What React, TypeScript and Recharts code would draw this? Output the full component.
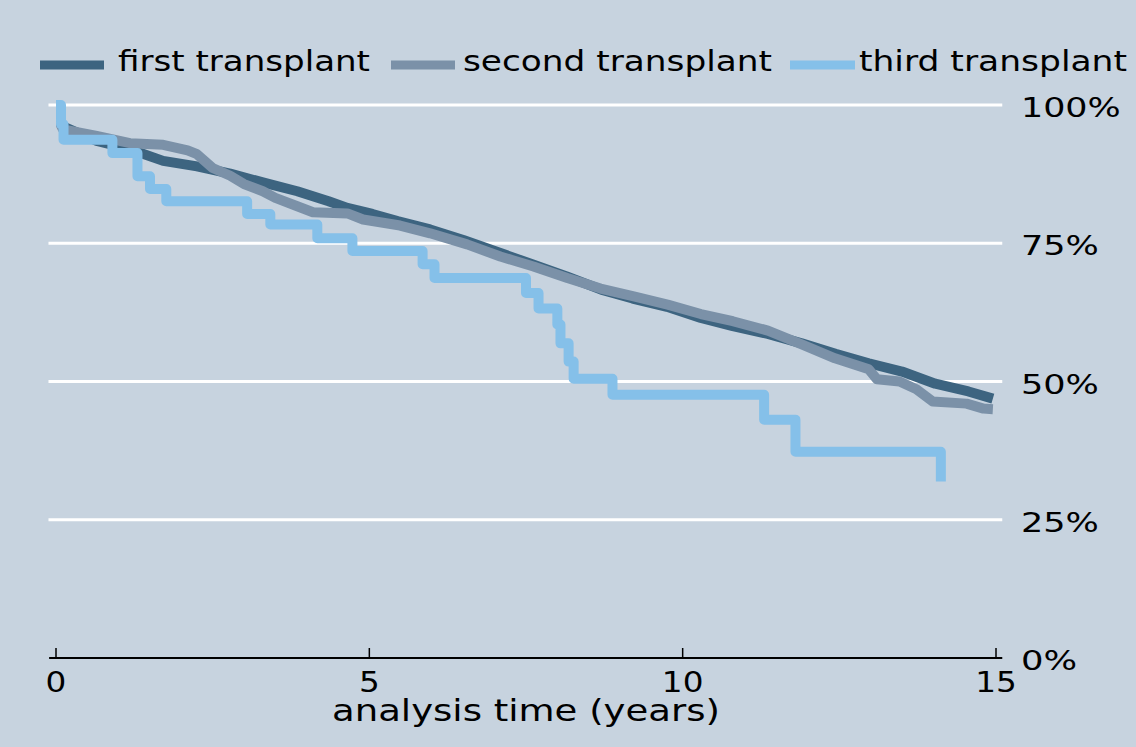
import React from 'react';
import { LineChart, Line, XAxis, YAxis, ReferenceLine, Legend, Label } from 'recharts';

// Kaplan-Meier style survival by transplant number
const firstT = [0, 0.05, 0.1, 0.3, 0.65, 1.18, 1.71, 2.25, 2.78, 3.3, 3.85, 4.35, 4.65, 5.05, 5.45, 5.97, 6.5, 7.0, 7.6, 8.15, 8.7, 9.2, 9.75, 10.29, 10.8, 11.36, 11.9, 12.44, 12.97, 13.5, 14.03, 14.56, 14.95];
const firstS = [100, 97.5, 96.2, 95.2, 93.5, 92.0, 89.9, 88.9, 87.6, 86.0, 84.4, 82.6, 81.4, 80.3, 79.0, 77.5, 75.6, 73.6, 71.2, 69.0, 66.6, 65.0, 63.5, 61.5, 60.0, 58.6, 56.9, 55.0, 53.3, 51.8, 49.6, 48.2, 46.9];

const secondT = [0, 0.05, 0.11, 0.65, 1.18, 1.71, 2.1, 2.25, 2.5, 2.78, 3.0, 3.3, 3.5, 3.85, 4.1, 4.65, 4.9, 5.49, 5.97, 6.56, 7.09, 7.62, 8.16, 8.69, 9.22, 9.76, 10.29, 10.8, 11.36, 11.9, 12.43, 12.97, 13.1, 13.46, 13.73, 13.99, 14.53, 14.8, 14.95];
const secondS = [100, 97, 95.6, 94.4, 93.1, 92.8, 91.8, 91.1, 88.6, 87.2, 85.7, 84.4, 83.2, 81.7, 80.6, 80.4, 79.3, 78.2, 76.8, 74.8, 72.6, 70.8, 68.7, 66.8, 65.4, 63.9, 62.2, 60.9, 59.2, 56.7, 54.2, 52.2, 50.4, 50.0, 48.6, 46.4, 46.0, 45.1, 45.0];

const thirdT = [0, 0.08, 0.12, 0.9, 1.3, 1.5, 1.76, 3.05, 3.42, 4.17, 4.73, 5.85, 6.04, 7.5, 7.7, 8.0, 8.05, 8.18, 8.26, 8.88, 11.3, 11.8, 14.12];
const thirdS = [100, 96.5, 93.7, 91.3, 87.1, 84.8, 82.6, 80.3, 78.4, 75.9, 73.6, 71.2, 68.7, 66.0, 63.2, 60.3, 56.9, 53.6, 50.5, 47.6, 43.1, 37.3, 31.9];

const seriesNames = ['first transplant', 'second transplant', 'third transplant'];
const seriesColors = ['#3d6480', '#7b91a8', '#85c0e9'];

const xTicks = [0, 5, 10, 15];
const yTicks = [0, 25, 50, 75, 100];
const gridLevels = [25, 50, 75, 100];
const xTitle = 'analysis time (years)';

const toPoints = (t: number[], s: number[]) => t.map((v, i) => ({ t: v, s: s[i] }));
const firstData = toPoints(firstT, firstS);
const secondData = toPoints(secondT, secondS);
const thirdData = toPoints(thirdT, thirdS);

const FONT = 'DejaVu Sans';
const BG = '#c7d3df';

// legend layout: marker start/end and label start/width
const legendLayout = [
  { m0: 40, m1: 104, tx: 118, tw: 252 },
  { m0: 391, m1: 455, tx: 463, tw: 309 },
  { m0: 790, m1: 855, tx: 859, tw: 268 },
];

const renderLegend = () => (
  <svg width={1136} height={50} style={{ display: 'block' }}>
    {seriesNames.map((name, i) => {
      const l = legendLayout[i];
      return (
        <g key={name}>
          <line x1={l.m0} x2={l.m1} y1={25} y2={25} stroke={seriesColors[i]} strokeWidth={9} />
          <text x={l.tx} y={31} fontFamily={FONT} fontSize={28} fill="#000" textLength={l.tw} lengthAdjust="spacingAndGlyphs">
            {name}
          </text>
        </g>
      );
    })}
  </svg>
);

const XTick = (props: any) => {
  const { x, y, payload } = props;
  const w = 30 * 1.09 * 0.636 * String(payload.value).length;
  return (
    <g>
      <line x1={x} x2={x} y1={y - 10} y2={y} stroke="#000" strokeWidth={1.5} />
      <text x={x} y={y + 34} textAnchor="middle" fontFamily={FONT} fontSize={29} fill="#000" textLength={w} lengthAdjust="spacingAndGlyphs">
        {payload.value}
      </text>
    </g>
  );
};

const YTick = (props: any) => {
  const { x, y, payload } = props;
  const label = `${payload.value}%`;
  const w = 27 * 1.27 * (0.636 * String(payload.value).length + 1.0);
  return (
    <text x={x + 25} y={y + 12} fontFamily={FONT} fontSize={27} fill="#000" textLength={w} lengthAdjust="spacingAndGlyphs">
      {label}
    </text>
  );
};

const renderTitle = (props: any) => {
  const { viewBox } = props;
  const cx = viewBox.x + viewBox.width / 2;
  return (
    <text x={cx} y={721} textAnchor="middle" fontFamily={FONT} fontSize={30} fill="#000" textLength={388} lengthAdjust="spacingAndGlyphs">
      {xTitle}
    </text>
  );
};

export default function App() {
  return (
    <div style={{ position: 'absolute', left: 0, top: 0, width: 1136, height: 747, background: BG }}>
      <LineChart width={1136} height={747} margin={{ top: 105, right: 20, bottom: 29, left: 56 }}>
        {gridLevels.map((g) => (
          <ReferenceLine
            key={g}
            segment={[{ x: -0.12, y: g }, { x: 15.1, y: g }]}
            stroke="#ffffff"
            strokeWidth={3}
            ifOverflow="visible"
          />
        ))}
        <ReferenceLine segment={[{ x: -0.11, y: 0 }, { x: 15.1, y: 0 }]} stroke="#000" strokeWidth={2} ifOverflow="visible" />
        <XAxis
          type="number"
          dataKey="t"
          domain={[0, 15]}
          ticks={xTicks}
          axisLine={false}
          tickLine={false}
          tickSize={0}
          tickMargin={0}
          height={60}
          tick={<XTick />}
          allowDataOverflow
        >
          <Label content={renderTitle} />
        </XAxis>
        <YAxis
          orientation="right"
          type="number"
          domain={[0, 100]}
          ticks={yTicks}
          axisLine={false}
          tickLine={false}
          tickSize={0}
          tickMargin={0}
          width={120}
          tick={<YTick />}
        />
        <Legend
          verticalAlign="middle"
          layout="horizontal"
          content={renderLegend}
          wrapperStyle={{ position: 'absolute', top: 40, left: 0, width: 1136 }}
        />
        <Line data={firstData} dataKey="s" name={seriesNames[0]} type="linear" stroke={seriesColors[0]} strokeWidth={10} strokeLinejoin="round" dot={false} isAnimationActive={false} />
        <Line data={secondData} dataKey="s" name={seriesNames[1]} type="linear" stroke={seriesColors[1]} strokeWidth={10} strokeLinejoin="round" dot={false} isAnimationActive={false} />
        <Line data={thirdData} dataKey="s" name={seriesNames[2]} type="stepAfter" stroke={seriesColors[2]} strokeWidth={10} strokeLinejoin="round" dot={false} isAnimationActive={false} />
      </LineChart>
    </div>
  );
}
